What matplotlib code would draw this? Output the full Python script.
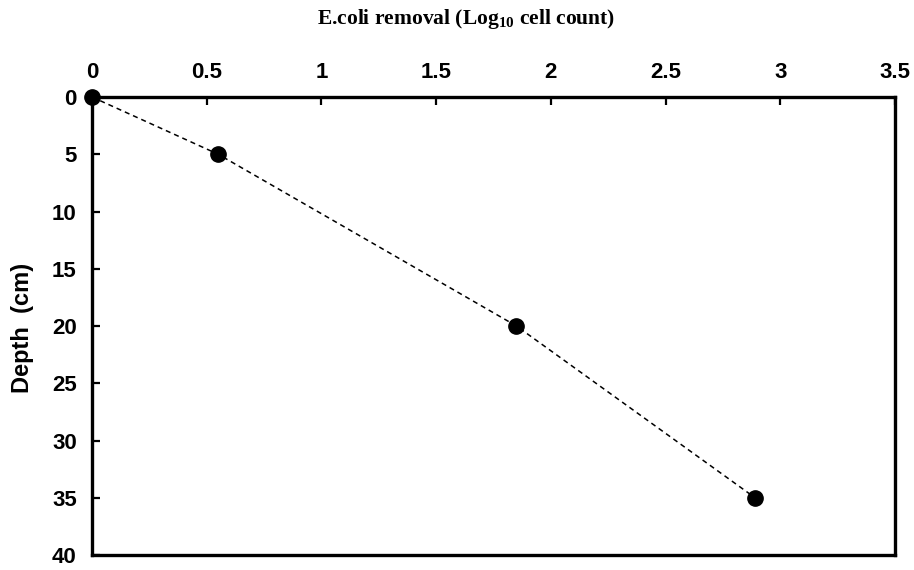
import matplotlib
matplotlib.use("Agg")
import matplotlib.pyplot as plt

removal = [0, 0.55, 1.85, 2.89]
depth = [0, 5, 20, 35]
x_ticks = [0, 0.5, 1, 1.5, 2, 2.5, 3, 3.5]
x_labels = ["0", "0.5", "1", "1.5", "2", "2.5", "3", "3.5"]
y_ticks = [0, 5, 10, 15, 20, 25, 30, 35, 40]

plt.rcParams["mathtext.fontset"] = "custom"
plt.rcParams["mathtext.rm"] = "Liberation Serif"
plt.rcParams["mathtext.bf"] = "Liberation Serif:bold"

fig = plt.figure(figsize=(9.14, 5.7), dpi=100)
ax = fig.add_axes([92 / 914, 1 - 555 / 570, (895 - 92) / 914, (555 - 97) / 570])

ax.plot(removal, depth, color="black", linestyle=(0, (3.3, 2.6)), linewidth=1.1,
        marker="o", markersize=11, clip_on=False, zorder=3)

ax.set_xlim(0, 3.5)
ax.set_ylim(40, 0)
ax.xaxis.tick_top()
ax.set_xticks(x_ticks)
ax.set_xticklabels(x_labels)
ax.set_yticks(y_ticks)

for lab in ax.get_xticklabels() + ax.get_yticklabels():
    lab.set_fontfamily("Liberation Sans")
    lab.set_fontweight("bold")
    lab.set_fontsize(16)

ax.tick_params(axis="x", direction="in", length=6, width=1.6, pad=10)
ax.tick_params(axis="y", direction="in", length=6, width=1.6, pad=11)
for sp in ax.spines.values():
    sp.set_linewidth(2.4)

fig.text(466 / 914, 1 - 19 / 570, r"E.coli removal (Log$_{\mathbf{10}}$ cell count)",
         ha="center", va="center", fontsize=15.5, fontweight="bold",
         family="Liberation Serif")
fig.text(22 / 914, 1 - 328 / 570, "Depth  (cm)", rotation=90, ha="center", va="center",
         fontsize=17, fontweight="bold", family="Liberation Sans")

fig.savefig("out.png", dpi=100)
